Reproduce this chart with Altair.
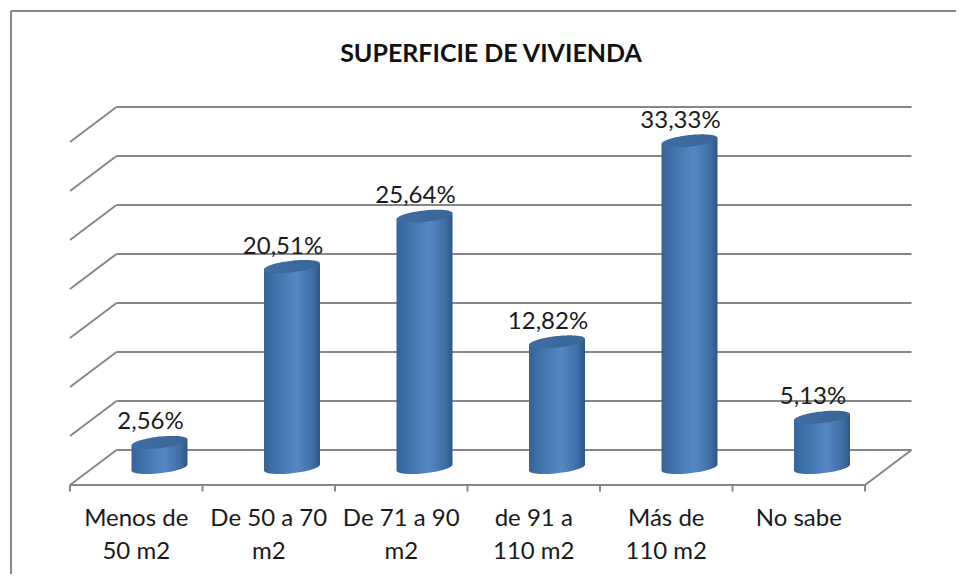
import math
import altair as alt
import pandas as pd

title = "SUPERFICIE DE VIVIENDA"
categories = ["Menos de\n50 m2", "De 50 a 70\nm2", "De 71 a 90\nm2", "de 91 a\n110 m2", "Más de\n110 m2", "No sabe"]
values = [2.56, 20.51, 25.64, 12.82, 33.33, 5.13]
value_labels = ["2,56%", "20,51%", "25,64%", "12,82%", "33,33%", "5,13%"]
grid_ticks = [0, 5, 10, 15, 20, 25, 30, 35]

# scale: one category = 132.5 px, one percent = 9.8 px; plot covers the whole page
PX_U, PX_V = 132.5, 9.8
X0, Y0 = 70.0, 467.5
W, H = 948, 566
x_scale = alt.Scale(domain=[(8 - X0) / PX_U, (8 + W - X0) / PX_U], range=[0, W], nice=False, zero=False)
y_scale = alt.Scale(domain=[(Y0 - 8 - H) / PX_V, (Y0 - 8) / PX_V], range=[H, 0], nice=False, zero=False)
X = lambda f: alt.X(f, type="quantitative", scale=x_scale, axis=None)
Y = lambda f: alt.Y(f, type="quantitative", scale=y_scale, axis=None)

# oblique depth of the floor
DEPTH_U, HALF_V = 46.5 / PX_U, 17.5 / PX_V
GREY = "#868686"

# side wall diagonals and back wall lines, plus the floor's front and right edges
grid = []
for t in grid_ticks:
    grid.append(dict(x=0.0, y=t - HALF_V, x2=DEPTH_U, y2=t + HALF_V))
    grid.append(dict(x=DEPTH_U, y=t + HALF_V, x2=6 + DEPTH_U, y2=t + HALF_V))
grid.append(dict(x=6.0, y=-HALF_V, x2=6 + DEPTH_U, y2=HALF_V))
grid.append(dict(x=0.0, y=-HALF_V, x2=6.0, y2=-HALF_V))
rules = alt.Chart(pd.DataFrame(grid)).mark_rule(color=GREY, strokeWidth=2).encode(
    x=X("x"), x2="x2:Q", y=Y("y"), y2="y2:Q"
)
ticks = alt.Chart(pd.DataFrame({"x": list(range(7))})).mark_rule(color=GREY, strokeWidth=2).encode(
    x=X("x"), y=alt.value(485 - 8), y2=alt.value(491.5 - 8)
)

# cylinders: outline derived from each value and the elliptical cross-section
HW = 28 / PX_U
TILT, SEMI = 3 / PX_V, 5.8 / PX_V
N = 48
body, top = [], []
for i, v in enumerate(values):
    c = i + 0.5 + DEPTH_U / 2
    for k in range(N + 1):
        t = -math.cos(math.pi * k / N)
        s = math.sqrt(max(0, 1 - t * t))
        xx = c + HW * t
        body.append(dict(cat=i, x=xx, y=v + TILT * t, y2=TILT * t - SEMI * s))
        top.append(dict(cat=i, x=xx, y=v + TILT * t + SEMI * s, y2=v + TILT * t - SEMI * s))

body_grad = alt.LinearGradient(
    gradient="linear", x1=0, x2=1, y1=0, y2=0,
    stops=[alt.GradientStop(offset=0, color="#35639a"),
           alt.GradientStop(offset=0.2, color="#4072ab"),
           alt.GradientStop(offset=0.58, color="#5587c5"),
           alt.GradientStop(offset=0.85, color="#4170a8"),
           alt.GradientStop(offset=1, color="#2f5787")],
)
top_grad = alt.LinearGradient(
    gradient="linear", x1=0, x2=1, y1=0, y2=0,
    stops=[alt.GradientStop(offset=0, color="#3f6ea5"),
           alt.GradientStop(offset=1, color="#3a6596")],
)
body_layer = alt.Chart(pd.DataFrame(body)).mark_area(color=body_grad, interpolate="linear").encode(
    x=X("x"), y=Y("y"), y2="y2:Q", detail="cat:N"
)
top_layer = alt.Chart(pd.DataFrame(top)).mark_area(color=top_grad, interpolate="linear").encode(
    x=X("x"), y=Y("y"), y2="y2:Q", detail="cat:N"
)

# data labels
lab_df = pd.DataFrame({"x": [i + 0.5 + DEPTH_U / 2 for i in range(6)], "y": values, "t": value_labels})
labels = alt.Chart(lab_df).mark_text(
    font="Lato", fontSize=24, color="#1a1a1a", baseline="alphabetic", dx=-9, dy=-13
).encode(x=X("x"), y=Y("y"), text="t:N")

# category labels
cat_df = pd.DataFrame({"x": [i + 0.5 for i in range(6)], "t": categories})
cat_labels = alt.Chart(cat_df).mark_text(
    font="Lato", fontSize=24, color="#1a1a1a", baseline="alphabetic", lineBreak="\n", lineHeight=33
).encode(x=X("x"), y=alt.value(526 - 8), text="t:N")

# title
title_layer = alt.Chart(pd.DataFrame({"t": [title]})).mark_text(
    font="Lato", fontSize=25, fontWeight="bold", color="#111111", baseline="alphabetic"
).encode(x=alt.value(491 - 8), y=alt.value(62 - 8), text="t:N")

# chart frame: only top and left edges are in the picture
frame_top = alt.Chart(pd.DataFrame({"a": [0]})).mark_rule(color=GREY, strokeWidth=2).encode(
    x=alt.value(3), x2=alt.value(W + 8), y=alt.value(3)
)
frame_left = alt.Chart(pd.DataFrame({"a": [0]})).mark_rule(color=GREY, strokeWidth=2).encode(
    x=alt.value(3), y=alt.value(3), y2=alt.value(H + 8)
)

chart = alt.layer(
    frame_top, frame_left, rules, ticks, body_layer, top_layer, labels, cat_labels, title_layer
).properties(width=W, height=H, padding=0, autosize=alt.AutoSizeParams(type="none")).configure_view(stroke=None)

chart.save("out.html", embed_options={"renderer": "svg", "actions": False})
